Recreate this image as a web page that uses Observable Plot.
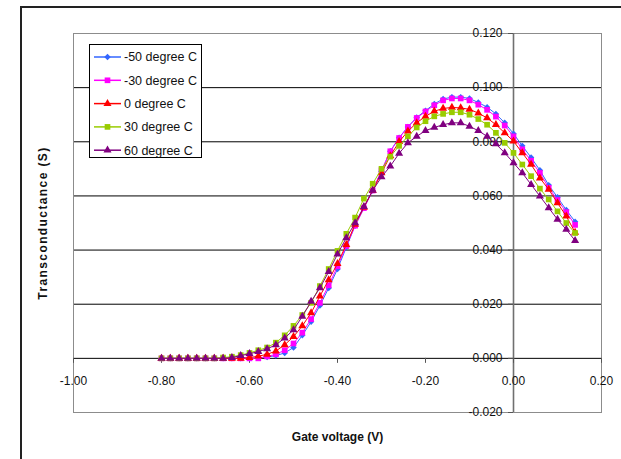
<!DOCTYPE html>
<html><head><meta charset="utf-8">
<script src="https://cdn.jsdelivr.net/npm/d3@7"></script>
<script src="https://cdn.jsdelivr.net/npm/@observablehq/plot@0.6"></script>
<style>
html,body{margin:0;padding:0;background:#fff;overflow:hidden;}
#wrap{position:relative;width:621px;height:459px;font-family:"Liberation Sans",Arial,sans-serif;}
#chart{position:absolute;left:0;top:0;}
#outer{position:absolute;left:20px;top:6px;width:660px;height:520px;border:2px solid #222;box-sizing:border-box;pointer-events:none;}
#legend{position:absolute;left:89px;top:44px;width:113px;height:114px;}
</style></head>
<body><div id="wrap"><div id="chart"></div><div id="outer"></div><div id="legend"></div></div>
<script>
// ---- data ----
const voltages = [-0.80,-0.78,-0.76,-0.74,-0.72,-0.70,-0.68,-0.66,-0.64,-0.62,-0.60,-0.58,-0.56,-0.54,-0.52,-0.50,-0.48,-0.46,-0.44,-0.42,-0.40,-0.38,-0.36,-0.34,-0.32,-0.30,-0.28,-0.26,-0.24,-0.22,-0.20,-0.18,-0.16,-0.14,-0.12,-0.10,-0.08,-0.06,-0.04,-0.02,0.00,0.02,0.04,0.06,0.08,0.10,0.12,0.14];

const seriesNames = ["-50 degree C","-30 degree C","0 degree C","30 degree C","60 degree C"];
const seriesColors = ["#3366FF","#FF00FF","#FF0000","#99CC00","#800080"];
const seriesSymbols = ["diamond2","square","triangle","square","triangle"];

const gmMinus50 = [0,0,0,0,0,0,0,0,0,0,0,0.0002,0.0005,0.001,0.002,0.004,0.0085,0.0135,0.0195,0.026,0.033,0.041,0.049,0.0555,0.062,0.069,0.0765,0.0815,0.0855,0.089,0.0915,0.094,0.0958,0.0965,0.0965,0.096,0.0945,0.0928,0.0903,0.087,0.083,0.0785,0.0742,0.0695,0.064,0.0595,0.0548,0.0505];
const gmMinus30 = [0,0,0,0,0,0,0,0,0,0,0,0,0.0007,0.0015,0.003,0.0055,0.0095,0.0145,0.0205,0.027,0.034,0.0415,0.049,0.0555,0.062,0.0695,0.0765,0.0814,0.0855,0.0888,0.0912,0.0935,0.0953,0.096,0.096,0.0953,0.0937,0.0918,0.0893,0.086,0.082,0.0772,0.073,0.0685,0.063,0.0585,0.054,0.0493];
const gm0 = [0,0,0,0,0,0,0,0,0,0,0.0003,0.0008,0.0015,0.0027,0.005,0.008,0.012,0.0168,0.023,0.029,0.035,0.042,0.0495,0.0558,0.062,0.0685,0.0748,0.080,0.0839,0.087,0.0894,0.0913,0.0923,0.0927,0.0925,0.092,0.0906,0.0888,0.0863,0.0833,0.0802,0.0759,0.0716,0.0666,0.0624,0.0574,0.0525,0.0465];
const gm30 = [0,0,0,0,0,0,0,0.0003,0.0006,0.0012,0.002,0.003,0.004,0.0058,0.0085,0.012,0.016,0.0205,0.0267,0.033,0.0397,0.046,0.052,0.059,0.0645,0.070,0.0745,0.0785,0.082,0.0853,0.0876,0.0894,0.0903,0.0909,0.0909,0.090,0.0884,0.0863,0.0833,0.0796,0.0759,0.0716,0.0673,0.0627,0.0587,0.0543,0.050,0.0463];
const gm60 = [0,0,0,0,0,0,0,0,0.0003,0.001,0.0017,0.0025,0.0035,0.005,0.0075,0.0105,0.0155,0.021,0.026,0.032,0.0385,0.0445,0.050,0.056,0.062,0.067,0.071,0.0757,0.0796,0.082,0.0841,0.0853,0.0863,0.087,0.087,0.0857,0.0841,0.082,0.0792,0.0759,0.0722,0.0685,0.0642,0.0599,0.0556,0.0513,0.0476,0.0435];

const xTicks = [-1.0,-0.8,-0.6,-0.4,-0.2,0.0,0.2];
const xTickLabels = ["-1.00","-0.80","-0.60","-0.40","-0.20","0.00","0.20"];
const yTicks = [-0.02,0.0,0.02,0.04,0.06,0.08,0.10,0.12];
const yTickLabels = ["-0.020","0.000","0.020","0.040","0.060","0.080","0.100","0.120"];
const gridLines = [0.0,0.02,0.04,0.06,0.08,0.10];

// ---- layout ----
const W = 621, H = 459, mL = 73, mR = 20, mT = 33, mB = 47;
const xDomain = [-1.0, 0.2], yDomain = [-0.02, 0.12];
const pxPerX = (W - mL - mR) / (xDomain[1] - xDomain[0]);
const pxPerY = (H - mT - mB) / (yDomain[1] - yDomain[0]);
const tickLen = 5;
const symR = [2.9, 3.2, 3.0, 3.2, 3.0];

const allSeries = [gmMinus50, gmMinus30, gm0, gm30, gm60];
const seriesMarks = [];
allSeries.forEach((vals, i) => {
  const rows = vals.map((v, j) => ({x: voltages[j], y: v}));
  seriesMarks.push(Plot.line(rows, {x: "x", y: "y", stroke: seriesColors[i], strokeWidth: 1}));
  seriesMarks.push(Plot.dot(rows, {x: "x", y: "y", symbol: seriesSymbols[i], fill: seriesColors[i], stroke: "none", r: symR[i]}));
});

const chart = Plot.plot({
  width: W, height: H,
  marginLeft: mL, marginRight: mR, marginTop: mT, marginBottom: mB,
  style: {background: "transparent", fontFamily: "'Liberation Sans', Arial, sans-serif"},
  x: {domain: xDomain, axis: null},
  y: {domain: yDomain, axis: null},
  marks: [
    Plot.ruleY(gridLines, {stroke: "#000", strokeWidth: 1}),
    Plot.frame({stroke: "#8c8c8c"}),
    Plot.ruleX([0], {stroke: "#707070", strokeWidth: 1.6}),
    Plot.ruleY(yTicks, {y: d => d, x1: 0, x2: -tickLen / pxPerX, stroke: "#555"}),
    Plot.ruleX(xTicks, {x: d => d, y1: 0, y2: -tickLen / pxPerY, stroke: "#555"}),
    Plot.text(yTicks, {x: 0, y: d => d, text: (d, i) => yTickLabels[i], textAnchor: "end", dx: -11, fontSize: 12, fill: "#111"}),
    Plot.text(xTicks, {x: d => d, y: 0, text: (d, i) => xTickLabels[i], dy: 23, fontSize: 12, fill: "#111"}),
    Plot.text(["Gate voltage (V)"], {frameAnchor: "bottom", lineAnchor: "middle", textAnchor: "middle", dy: 25, fontSize: 12, fontWeight: "bold", fill: "#111"}),
    Plot.text(["Transconductance (S)"], {frameAnchor: "left", lineAnchor: "middle", textAnchor: "middle", dx: -30, rotate: -90, fontSize: 12, fontWeight: "bold", fill: "#111", className: "ytitle"}),
    ...seriesMarks
  ]
});
document.getElementById("chart").appendChild(chart);
d3.select(chart).selectAll(".ytitle text").attr("letter-spacing", "1.4px");

// ---- legend ----
const symMap = {diamond2: d3.symbolDiamond2, square: d3.symbolSquare, triangle: d3.symbolTriangle};
const lg = d3.select("#legend").append("svg").attr("width", 113).attr("height", 114)
  .style("font-family", "'Liberation Sans', Arial, sans-serif");
lg.append("rect").attr("x", 0.5).attr("y", 0.5).attr("width", 112).attr("height", 113)
  .attr("fill", "#fff").attr("stroke", "#000");
seriesNames.forEach((name, i) => {
  const cy = 13 + i * 23.3;
  const g = lg.append("g").attr("transform", `translate(0,${cy})`);
  g.append("line").attr("x1", 5).attr("x2", 32).attr("y1", 0).attr("y2", 0)
    .attr("stroke", seriesColors[i]).attr("stroke-width", 1.5);
  g.append("path").attr("transform", "translate(18.5,0)")
    .attr("d", d3.symbol(symMap[seriesSymbols[i]], Math.PI * symR[i] * symR[i])())
    .attr("fill", seriesColors[i]);
  g.append("text").attr("x", 35).attr("y", 0).attr("dy", "0.35em")
    .attr("font-size", 12.5).attr("fill", "#111").text(name);
});
</script>
</body></html>
